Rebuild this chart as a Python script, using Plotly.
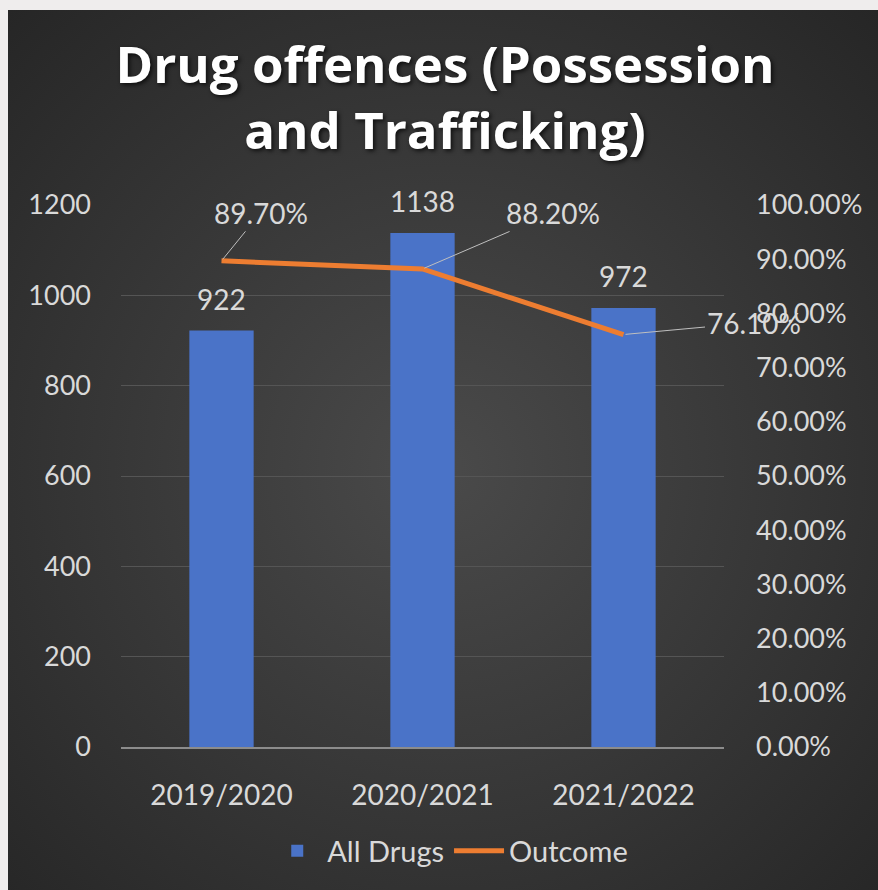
import base64
import plotly.graph_objects as go

categories = ["2019/2020", "2020/2021", "2021/2022"]
all_drugs = [922, 1138, 972]
outcome = [0.897, 0.882, 0.761]
left_ticks = [0, 200, 400, 600, 800, 1000, 1200]
right_ticks = [0.0, 0.1, 0.2, 0.3, 0.4, 0.5, 0.6, 0.7, 0.8, 0.9, 1.0]

# label offsets (pixels) for the percentage data labels
pct_offsets = [(39, -48), (130, -56), (130, -12)]

FONT = "Lato"
TXT = "#d9d9d9"

svg = """<svg xmlns='http://www.w3.org/2000/svg' width='870' height='880' viewBox='0 0 870 880' preserveAspectRatio='none'>
<defs><radialGradient id='g' cx='0.5' cy='0.52' r='0.72'>
<stop offset='0' stop-color='#4a4a4a'/><stop offset='1' stop-color='#262626'/>
</radialGradient></defs><rect width='870' height='880' fill='url(#g)'/></svg>"""
bg_src = "data:image/svg+xml;base64," + base64.b64encode(svg.encode()).decode()

fig = go.Figure()
fig.add_trace(go.Bar(
    x=categories, y=all_drugs, name="All Drugs",
    marker=dict(color="#4a73c8", line=dict(width=0)),
    width=0.32, yaxis="y",
))
fig.add_trace(go.Scatter(
    x=categories, y=outcome, name="Outcome", mode="lines",
    line=dict(color="#ED7D31", width=5), yaxis="y2",
))

annotations = []
for c, v in zip(categories, all_drugs):
    annotations.append(dict(
        x=c, y=v, xref="x", yref="y", text=str(v), showarrow=False,
        yshift=32, font=dict(family=FONT, size=28, color=TXT),
    ))
for c, v, (ax, ay) in zip(categories, outcome, pct_offsets):
    annotations.append(dict(
        x=c, y=v, xref="x", yref="y2", text=f"{v*100:.2f}%",
        showarrow=True, arrowhead=0, arrowwidth=1, arrowcolor="#bfbfbf",
        ax=ax, ay=ay, standoff=2,
        font=dict(family=FONT, size=28, color=TXT),
    ))

# plot area: x 121..724, y 205..747 px
x0p = (8 - 121) / 603
x1p = (878 - 121) / 603
y1p = (747 - 10) / 542
y0p = (747 - 890) / 542

fig.update_layout(
    width=878, height=890,
    margin=dict(l=121, r=154, t=205, b=143),
    paper_bgcolor="#efeded",
    plot_bgcolor="rgba(0,0,0,0)",
    images=[dict(source=bg_src, xref="paper", yref="paper",
                 x=x0p, y=y1p, sizex=x1p - x0p, sizey=y1p - y0p,
                 xanchor="left", yanchor="top", sizing="stretch",
                 layer="below")],
    title=dict(
        text="Drug offences (Possession<br>and Trafficking)",
        x=445 / 878, xanchor="center", xref="container",
        y=1 - 83 / 890, yanchor="top", yref="container",
        font=dict(family="Open Sans", size=51, color="#ffffff", weight="bold",
                  shadow="2px 2px 4px rgba(0,0,0,0.7)"),
    ),
    xaxis=dict(
        range=[-0.5, 2.5], showgrid=False, ticks="",
        showline=True, linecolor="#8c8c8c", linewidth=2,
        tickfont=dict(family=FONT, size=28, color=TXT),
        ticklabelstandoff=22, zeroline=False,
    ),
    yaxis=dict(
        range=[0, 1200], tickvals=left_ticks, ticks="",
        showgrid=True, gridcolor="#555555", gridwidth=1,
        zeroline=False, showline=False,
        tickfont=dict(family=FONT, size=27, color=TXT),
        ticklabelstandoff=29,
    ),
    yaxis2=dict(
        range=[0, 1], tickvals=right_ticks, tickformat=".2%",
        overlaying="y", side="right", showgrid=False, zeroline=False,
        ticks="", tickfont=dict(family=FONT, size=27, color=TXT),
        ticklabelstandoff=31,
    ),
    legend=dict(
        orientation="h", x=0.546, xanchor="center",
        y=(747 - 851) / 542, yanchor="middle",
        font=dict(family=FONT, size=29, color=TXT),
        bgcolor="rgba(0,0,0,0)", itemwidth=50,
    ),
    annotations=annotations,
    showlegend=True,
)

fig.write_html("out.html")
